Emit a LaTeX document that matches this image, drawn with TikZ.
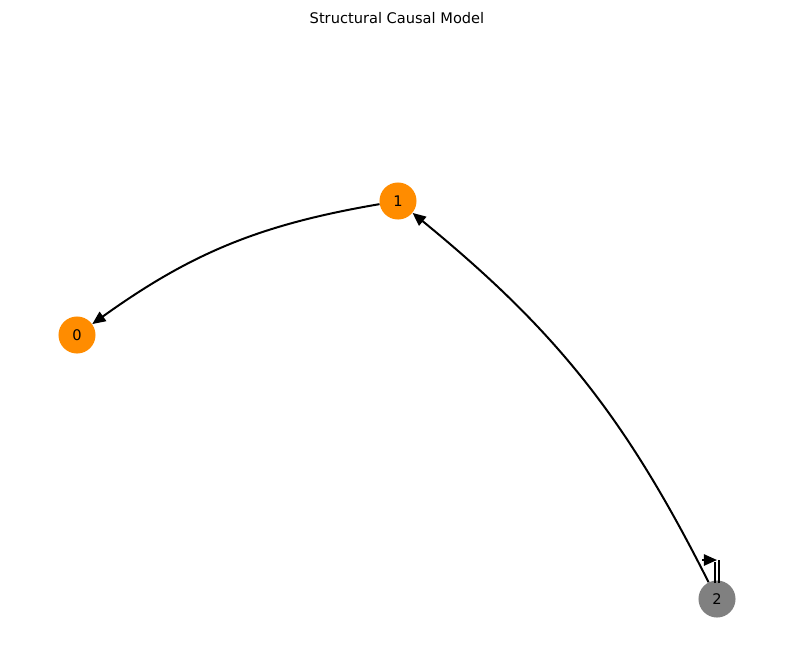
\documentclass[tikz,border=0pt]{standalone}
\usepackage{fontspec}
\setmainfont{DejaVu Sans}
\usetikzlibrary{arrows.meta}
\begin{document}
\begin{tikzpicture}[
            x = 0.0264583cm, y = -0.0264583cm,
            vert/.style = {circle, inner sep = 0mm, minimum size = 37\pgflinewidth, minimum size = 0.98cm, font=\fontsize{11}{13}\selectfont},
            arr/.style = {draw, line width = 1.5pt, -{Stealth[length=3.5mm, width=3mm, inset=0pt]}},
        ]
        \useasboundingbox (0,0) rectangle (794,658);
        \node (T) at (397,18) {\fontsize{11}{13}\selectfont Structural Causal Model};

        \node (N0) [vert, fill=orange!90!yellow] at (77,335) {0};
        \node (N1) [vert, fill=orange!90!yellow] at (398,201) {1};
        \node (N2) [vert, fill=gray] at (717,599) {2};

        \path[arr] (N1) to[bend right=13] (N0);
        \path[arr] (N2) to[bend right=12] (N1);

        \coordinate (LA) at (715,583);
        \coordinate (LB) at (719,583);
        \coordinate (LC) at (715,562);
        \coordinate (LD) at (719,560);
        \coordinate (LE) at (702,560);
        \coordinate (LF) at (717,560);
        \draw[line width = 1.5pt] (LA) -- (LC);
        \draw[line width = 1.5pt] (LB) -- (LD);
        \path[arr] (LE) -- (LF);
    \end{tikzpicture}
\end{document}
